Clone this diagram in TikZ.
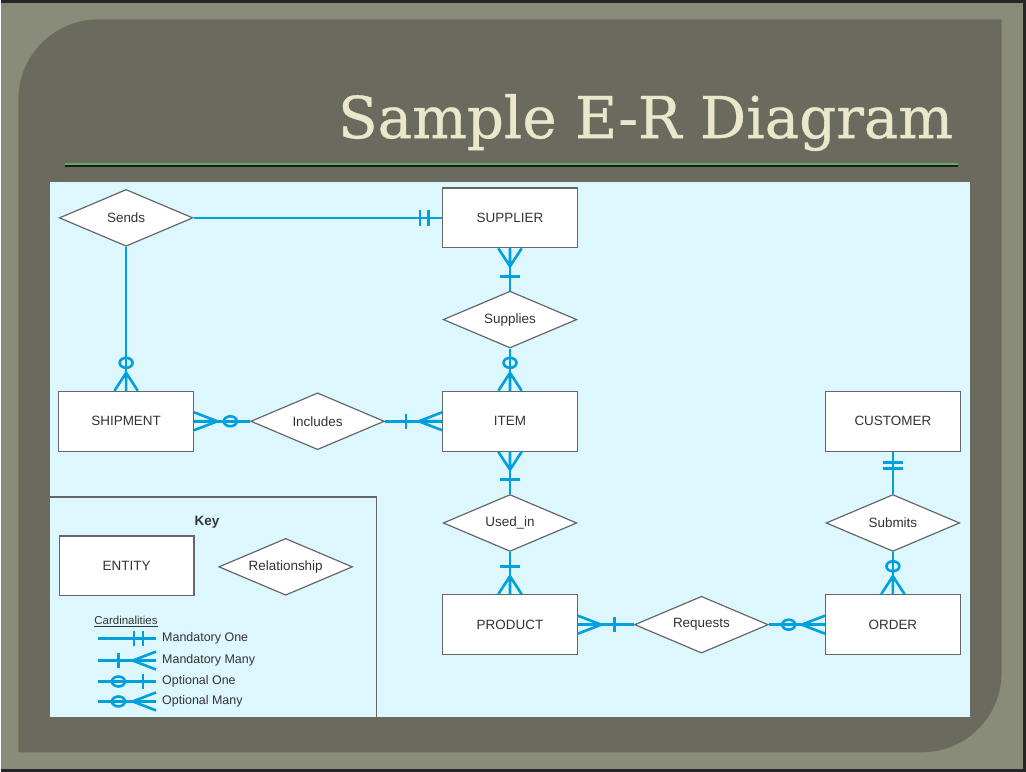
\documentclass[tikz,border=0pt]{standalone}
\usepackage{fontspec}
\setmainfont{Liberation Sans}
\newfontfamily\titlefont[FakeBold=0.6]{DejaVu Serif}
\usetikzlibrary{shapes.geometric,calc}
\definecolor{frame}{RGB}{138,140,122}
\definecolor{panel}{RGB}{106,107,94}
\definecolor{sky}{RGB}{220,248,254}
\definecolor{cardblue}{RGB}{0,160,221}
\definecolor{rule}{RGB}{96,170,110}
\definecolor{cream}{RGB}{234,232,202}
\definecolor{ink}{RGB}{51,51,51}
\tikzset{card/.style={draw=cardblue,line width=2.6pt},
  cardat/.style 2 args={shift={#1},xscale=1.3,rotate=#2}}
\newcommand{\crowend}[2]{\draw[card,cardat={#1}{#2}] (0,-9)--(18,0)--(0,9) (0,0)--(18,0);}
\newcommand{\barend}[3]{\draw[card,cardat={#1}{#2}] (#3,-7.7)--(#3,7.7);}
\newcommand{\ringend}[3]{\draw[card,cardat={#1}{#2}] (#3,0) circle (5);}

\begin{document}
\begin{tikzpicture}[x=1pt,y=-1pt,
  ent/.style={draw=black!60,line width=1.2pt,fill=white,minimum width=135,minimum height=60,
    inner sep=0,font=\fontsize{13.5}{15}\selectfont,text=ink},
  rel/.style={diamond,aspect=2.35,draw=black!60,line width=1.2pt,fill=white,minimum width=134,
    minimum height=57,inner sep=0,font=\fontsize{13.5}{15}\selectfont,text=ink},
  keytext/.style={anchor=west,inner sep=0,font=\fontsize{12.5}{14}\selectfont,text=ink}]
\fill[frame] (0,0) rectangle (1026,771);
\draw[black!85,line width=3pt] (0,0)--(1026,0)--(1026,771)--(0,771);
\fill[panel] (17,753)--(17,98) arc[start angle=180,end angle=270,radius=80]--(1003,18)
  --(1003,673) arc[start angle=0,end angle=90,radius=80]--cycle;
\node[font=\titlefont\fontsize{58}{60}\selectfont,text=cream,anchor=base east] (title) at (958,137) {Sample E-R Diagram};
\draw[black!75!panel,line width=1.5pt] (64,165)--(959,165);
\draw[rule,line width=1.5pt] (64,163)--(959,163);
\fill[sky] (49,181) rectangle (971,718);
\draw[black!60,line width=1.2pt] (49,497)--(376,497)--(376,718);

\node[rel] (sends) at (125,217) {Sends};
\node[ent] (supplier) at (510,217) {SUPPLIER};
\node[rel] (supplies) at (510,319) {Supplies};
\node[ent] (shipment) at (125,421) {SHIPMENT};
\node[rel] (includes) at (317,421) {Includes};
\node[ent] (item) at (510,421) {ITEM};
\node[ent] (customer) at (894,421) {CUSTOMER};
\node[rel] (usedin) at (510,523) {Used\_in};
\node[rel] (submits) at (894,523) {Submits};
\node[ent] (product) at (510,625) {PRODUCT};
\node[rel] (requests) at (702,625) {Requests};
\node[ent] (order) at (894,625) {ORDER};

\draw[card] (sends) -- (supplier);
\draw[card] (sends) -- (shipment);
\draw[card] (supplier) -- (supplies);
\draw[card] (supplies) -- (item);
\draw[card] (shipment) -- (includes);
\draw[card] (includes) -- (item);
\draw[card] (item) -- (usedin);
\draw[card] (usedin) -- (product);
\draw[card] (customer) -- (submits);
\draw[card] (submits) -- (order);
\draw[card] (product) -- (requests);
\draw[card] (requests) -- (order);

\barend{(supplier.west)}{180}{10.5} \barend{(supplier.west)}{180}{17}
\crowend{(shipment.north)}{90} \ringend{(shipment.north)}{90}{28}
\crowend{(supplier.south)}{-90} \barend{(supplier.south)}{-90}{28}
\crowend{(item.north)}{90} \ringend{(item.north)}{90}{28}
\crowend{(shipment.east)}{0} \ringend{(shipment.east)}{0}{28}
\crowend{(item.west)}{180} \barend{(item.west)}{180}{28}
\crowend{(item.south)}{-90} \barend{(item.south)}{-90}{28}
\crowend{(product.north)}{90} \barend{(product.north)}{90}{28}
\barend{(customer.south)}{-90}{10.5} \barend{(customer.south)}{-90}{17}
\crowend{(order.north)}{90} \ringend{(order.north)}{90}{28}
\crowend{(product.east)}{0} \barend{(product.east)}{0}{28}
\crowend{(order.west)}{180} \ringend{(order.west)}{180}{28}

\node[font=\bfseries\fontsize{13.5}{15}\selectfont,text=ink] (key) at (206,522) {Key};
\node[ent] (entity) at (125.5,566) {ENTITY};
\node[rel] (relship) at (285,567) {Relationship};
\node[keytext,font=\fontsize{11.5}{13}\selectfont] (cards) at (93,622) {\underline{Cardinalities}};
\foreach \i/\y/\t in {1/639/Mandatory One,2/661/Mandatory Many,3/682/Optional One,4/702/Optional Many}{
  \coordinate (ka\i) at (97,\y);
  \coordinate (kb\i) at (155,\y);
  \node[keytext] (kl\i) at (161,\y) {\t};
  \draw[card] (ka\i) -- (kb\i);
}
\barend{(kb1)}{180}{10} \barend{(kb1)}{180}{17}
\crowend{(kb2)}{180} \barend{(kb2)}{180}{29}
\barend{(kb3)}{180}{10} \ringend{(kb3)}{180}{29}
\crowend{(kb4)}{180} \ringend{(kb4)}{180}{29}
\end{tikzpicture}
\end{document}
